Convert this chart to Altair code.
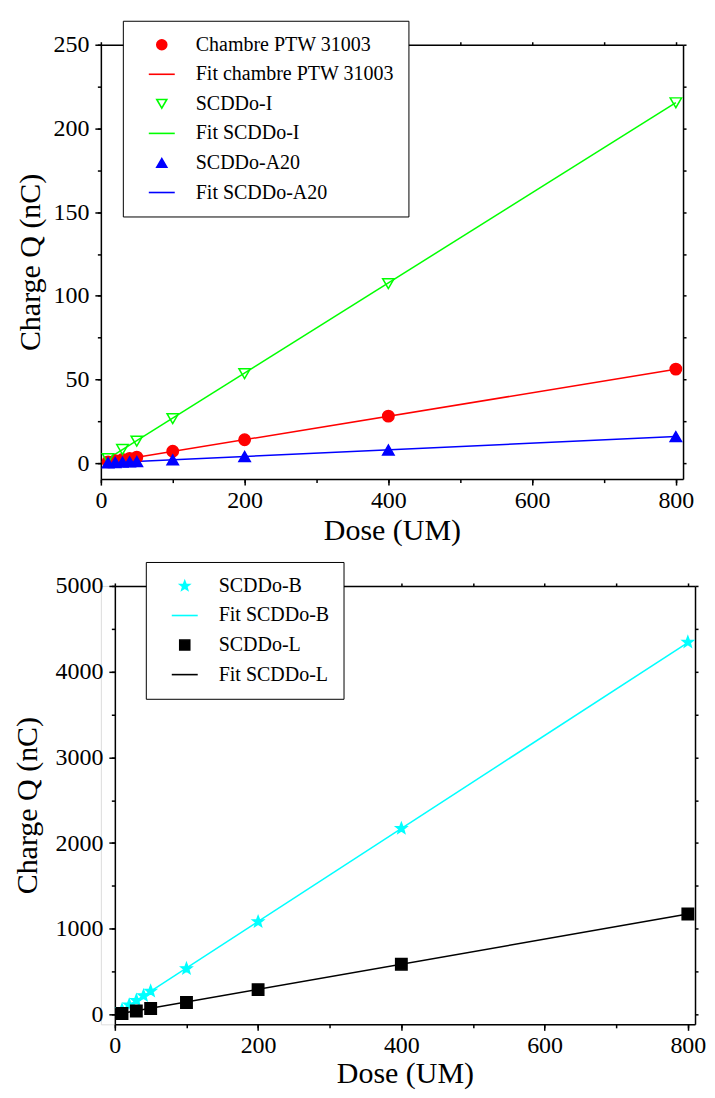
import altair as alt
import pandas as pd

FONT = "Liberation Serif"

# ---------------- top panel data ----------------
dose_top = [10, 20, 30, 40, 50, 100, 200, 400, 800]
ptw_q = [0.8, 1.5, 2.2, 2.9, 3.6, 7.1, 14.0, 28.1, 56.2]
dose_i = [10, 30, 50, 100, 200, 400, 800]
scddo_i_q = [2.7, 8.2, 13.2, 26.6, 53.5, 107.3, 215.3]
scddo_a20_q = [0.2, 0.4, 0.6, 0.8, 1.0, 2.0, 4.0, 7.9, 15.9]

fit_dose = [10, 800]
fit_ptw = [0.7, 56.1]
fit_i = [2.7, 215.4]
fit_a20 = [0.2, 15.9]

top_names = ["Chambre PTW 31003", "Fit chambre PTW 31003", "SCDDo-I",
             "Fit SCDDo-I", "SCDDo-A20", "Fit SCDDo-A20"]

# ---------------- bottom panel data ----------------
dose_b = [10, 20, 30, 40, 50, 100, 200, 400, 800]
scddo_b_q = [55, 110, 165, 218, 272, 535, 1082, 2170, 4345]
dose_l = [10, 30, 50, 100, 200, 400, 800]
scddo_l_q = [12, 40, 70, 140, 290, 586, 1172]
fit_b = [54, 4340]
fit_l = [14, 1172]

bot_names = ["SCDDo-B", "Fit SCDDo-B", "SCDDo-L", "Fit SCDDo-L"]

# ---------------- styles ----------------
LINE = "M-2.6,0L2.6,0"
STAR = ("M0,-1L0.247,-0.34L0.951,-0.309L0.399,0.13L0.588,0.809L0,0.42"
        "L-0.588,0.809L-0.399,0.13L-0.951,-0.309L-0.247,-0.34Z")
top_stroke = ["#ff0000", "#ff0000", "#00ff00", "#00ff00", "#0000ff", "#0000ff"]
top_fill = ["#ff0000", "transparent", "transparent", "transparent", "#0000ff", "transparent"]
top_shape = ["circle", LINE, "triangle-down", LINE, "triangle-up", LINE]

bot_stroke = ["#00ffff", "#00ffff", "#000000", "#000000"]
bot_fill = ["#00ffff", "transparent", "#000000", "transparent"]
bot_shape = [STAR, LINE, "square", LINE]


top_pts = pd.DataFrame(
    [{"dose": d, "q": q, "series": "Chambre PTW 31003"} for d, q in zip(dose_top, ptw_q)]
    + [{"dose": d, "q": q, "series": "SCDDo-I"} for d, q in zip(dose_i, scddo_i_q)]
    + [{"dose": d, "q": q, "series": "SCDDo-A20"} for d, q in zip(dose_top, scddo_a20_q)]
)
top_fit = pd.DataFrame(
    [{"dose": d, "q": q, "series": "Fit chambre PTW 31003"} for d, q in zip(fit_dose, fit_ptw)]
    + [{"dose": d, "q": q, "series": "Fit SCDDo-I"} for d, q in zip(fit_dose, fit_i)]
    + [{"dose": d, "q": q, "series": "Fit SCDDo-A20"} for d, q in zip(fit_dose, fit_a20)]
)
bot_pts = pd.DataFrame(
    [{"dose": d, "q": q, "series": "SCDDo-B"} for d, q in zip(dose_b, scddo_b_q)]
    + [{"dose": d, "q": q, "series": "SCDDo-L"} for d, q in zip(dose_l, scddo_l_q)]
)
bot_fit = pd.DataFrame(
    [{"dose": d, "q": q, "series": "Fit SCDDo-B"} for d, q in zip(fit_dose, fit_b)]
    + [{"dose": d, "q": q, "series": "Fit SCDDo-L"} for d, q in zip(fit_dose, fit_l)]
)


def axis(orient, values, title=None, labels=True, tick=6, title_pad=10, domain=True,
         offset=0, label_pad=3):
    kw = dict(orient=orient, values=values, labels=labels, tickSize=tick, grid=False,
              domain=domain, domainColor="black", domainWidth=1.5, tickColor="black",
              tickWidth=1.5, labelColor="black", labelFont=FONT, labelFontSize=24,
              labelPadding=label_pad, labelFlush=False, labelOverlap=False, format="d",
              offset=offset)
    if title is not None:
        kw.update(title=title, titleFont=FONT, titleFontSize=30, titleFontWeight="normal",
                  titleColor="black", titlePadding=title_pad)
    else:
        kw.update(title=None)
    return alt.Axis(**kw)


def legend(x, y):
    return alt.Legend(title=None, orient="none", legendX=x, legendY=y,
                      strokeColor="black", fillColor="white", padding=14,
                      labelFont=FONT, labelFontSize=20, labelColor="black", labelLimit=500,
                      symbolSize=100, symbolStrokeWidth=1.6, symbolOffset=15,
                      labelOffset=24, rowPadding=9.6, cornerRadius=0)


def panel(pts, fits, names, strokes, fills, shapes, xdom, ydom, yvals, ymin_vals,
          xvals, xmin_vals, w, xrange, h, lx, ly, ypad, xpad, left_off, psize):
    xs = alt.Scale(domain=xdom, nice=False, zero=False, range=xrange)
    ys = alt.Scale(domain=ydom, nice=False, zero=False)
    leg = legend(lx, ly)
    stroke = alt.Stroke("series:N", scale=alt.Scale(domain=names, range=strokes), legend=leg)
    fill = alt.Fill("series:N", scale=alt.Scale(domain=names, range=fills), legend=leg)
    shape = alt.Shape("series:N", scale=alt.Scale(domain=names, range=shapes), legend=leg)

    minor = alt.Chart(pts).mark_point(opacity=0).encode(
        x=alt.X("dose:Q", scale=xs, axis=axis("bottom", xmin_vals, labels=False, tick=3.5, domain=False)),
        y=alt.Y("q:Q", scale=ys, axis=axis("left", ymin_vals, labels=False, tick=3.5, domain=False,
                                          offset=left_off)),
    )
    lines = alt.Chart(fits).mark_line(strokeWidth=1.5).encode(
        x=alt.X("dose:Q", scale=xs, axis=axis("top", xmin_vals, labels=False, tick=3)),
        y=alt.Y("q:Q", scale=ys, axis=axis("right", ymin_vals, labels=False, tick=3)),
        stroke=stroke,
    )
    points = alt.Chart(pts).mark_point(filled=True, size=psize, strokeWidth=1.5, opacity=1).encode(
        x=alt.X("dose:Q", scale=xs, axis=axis("bottom", xvals, "Dose (UM)", title_pad=xpad)),
        y=alt.Y("q:Q", scale=ys, axis=axis("left", yvals, "Charge Q (nC)", title_pad=ypad,
                                          offset=left_off, label_pad=6)),
        fill=fill, stroke=stroke, shape=shape,
    )
    return alt.layer(minor, lines, points).resolve_axis(x="independent", y="independent").properties(
        width=w, height=h)


top = panel(top_pts, top_fit, top_names, top_stroke, top_fill, top_shape,
            [0, 810], [-9.5, 250], [0, 50, 100, 150, 200, 250],
            [0, 25, 50, 75, 100, 125, 150, 175, 200, 225, 250],
            [0, 200, 400, 600, 800], [0, 100, 200, 300, 400, 500, 600, 700, 800],
            583, [0, 583], 435, 22, -24, 7, 3, 0, 130)

bottom = panel(bot_pts, bot_fit, bot_names, bot_stroke, bot_fill, bot_shape,
               [0, 810], [-115, 5000], [0, 1000, 2000, 3000, 4000, 5000],
               [0, 500, 1000, 1500, 2000, 2500, 3000, 3500, 4000, 4500, 5000],
               [0, 200, 400, 600, 800], [0, 100, 200, 300, 400, 500, 600, 700, 800],
               595, [14, 595], 439, 45, -24, 12, 1, -14, 130)

res = dict(x="independent", y="independent", fill="independent", stroke="independent",
           shape="independent")
leg_res = dict(fill="independent", stroke="independent", shape="independent")

chart = alt.vconcat(top, bottom, spacing=15).resolve_scale(**res).resolve_legend(
    **leg_res).configure_view(stroke="transparent").configure_axis(
    labelFont=FONT, titleFont=FONT).configure_legend(labelFont=FONT).configure(
    background="white", font=FONT, padding={"left": 4, "top": 11, "right": 0, "bottom": 0})

chart.save("out.html", embed_options={"renderer": "svg", "actions": False})
